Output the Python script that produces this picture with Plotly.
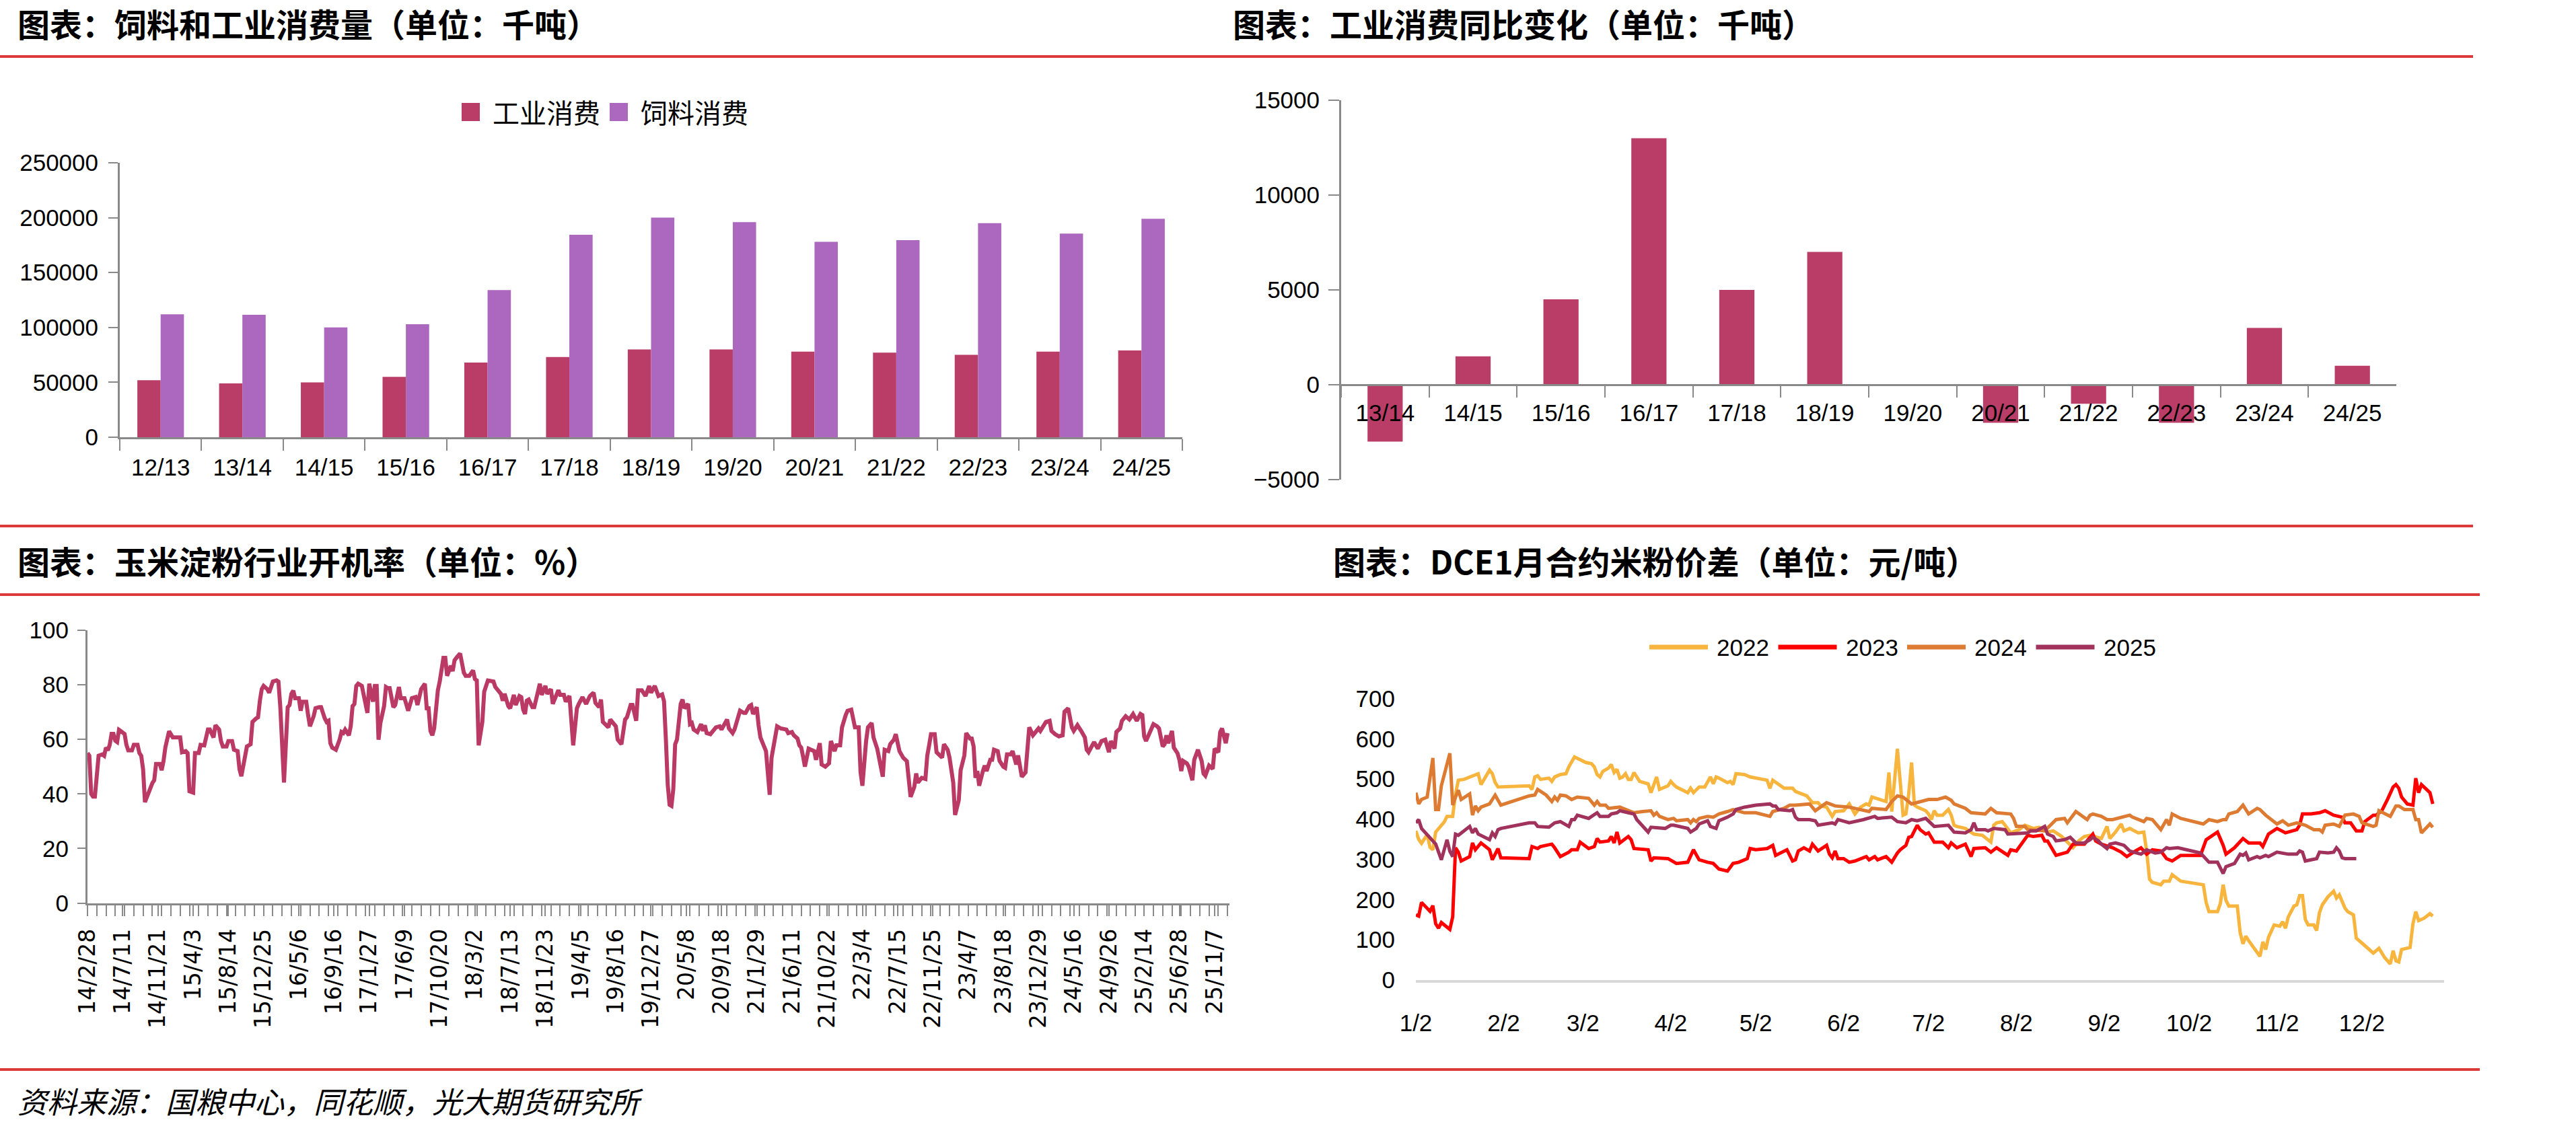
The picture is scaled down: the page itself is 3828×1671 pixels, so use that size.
import plotly.graph_objects as go
import pandas as pd

W, H = 3828, 1671

# ---------------- Chart 1: feed & industrial consumption ----------------
seasons = ["12/13", "13/14", "14/15", "15/16", "16/17", "17/18", "18/19",
           "19/20", "20/21", "21/22", "22/23", "23/24", "24/25"]
industrial = [52000, 49000, 50000, 55000, 68000, 73000, 80000,
              80000, 78000, 77000, 75000, 78000, 79000]
feed = [112000, 111500, 100000, 103000, 134000, 184500, 200000,
        196000, 178000, 179500, 195000, 185500, 199000]

# ---------------- Chart 2: industrial consumption YoY ----------------
yoy_seasons = ["13/14", "14/15", "15/16", "16/17", "17/18", "18/19",
               "19/20", "20/21", "21/22", "22/23", "23/24", "24/25"]
yoy_change = [-3000, 1500, 4500, 13000, 5000, 7000, 0, -2000, -1000, -2000, 3000, 1000]

# ---------------- Chart 3: corn starch operating rate (weekly) ----------------
rate_week = [0, 1, 2, 3, 4, 5, 6, 8, 9, 10, 11, 12, 13, 14, 15, 16, 17, 18, 20, 21, 22, 24, 25, 27, 28, 29, 30, 31, 33, 35,
             36, 37, 39, 40, 41, 42, 44, 46, 50, 51, 53, 54, 55, 57, 58, 60, 61, 63, 64, 65, 66, 68, 69, 71, 72, 73, 75, 76,
             78, 79, 81, 82, 83, 85, 86, 88, 89, 91, 92, 93, 94, 95, 97, 98, 100, 102, 103, 104, 105, 106, 107, 108, 109, 110,
             111, 112, 114, 115, 116, 118, 119, 120, 122, 123, 125, 126, 128, 129, 130, 131, 132, 134, 136, 137, 138, 139,
             141, 142, 143, 144, 145, 146, 148, 149, 150, 151, 152, 154, 155, 156, 157, 158, 160, 161, 162, 163, 165, 166,
             168, 169, 171, 173, 175, 177, 178, 180, 182, 183, 184, 185, 186, 187, 189, 190, 192, 193, 194, 196, 197, 198,
             199, 201, 203, 204, 206, 208, 209, 210, 211, 213, 214, 216, 219, 220, 223, 224, 225, 227, 228, 230, 231, 233,
             234, 235, 236, 237, 238, 240, 241, 244, 245, 247, 248, 250, 251, 254, 255, 257, 258, 260, 262, 264, 265, 267,
             269, 271, 273, 274, 276, 277, 278, 281, 282, 285, 286, 288, 290, 291, 293, 294, 296, 297, 299, 301, 303, 304,
             306, 308, 310, 311, 312, 313, 314, 315, 316, 317, 318, 319, 320, 321, 322, 324, 325, 326, 327, 329, 331, 332,
             333, 334, 336, 339, 341, 342, 345, 346, 348, 349, 352, 354, 355, 357, 358, 359, 361, 362, 363, 366, 367, 368,
             369, 371, 372, 374, 377, 378, 380, 381, 383, 384, 385, 386, 387, 389, 392, 393, 395, 396, 398, 400, 401, 403,
             404, 406, 407, 409, 410, 412, 413, 414, 416, 417, 418, 419, 420, 421, 423, 424, 426, 429, 430, 432, 433, 435,
             436, 438, 440, 442, 444, 446, 447, 448, 450, 452, 453, 454, 455, 457, 458, 461, 462, 464, 465, 467, 468, 470,
             471, 473, 474, 476, 477, 478, 479, 480, 481, 483, 484, 485, 487, 488, 489, 491, 492, 494, 495, 496, 498, 499,
             501, 502, 504, 506, 508, 510, 513, 514, 517, 519, 520, 522, 524, 526, 527, 529, 531, 532, 534, 536, 538, 539,
             540, 542, 543, 545, 547, 549, 551, 552, 554, 555, 557, 558, 560, 562, 564, 566, 568, 569, 570, 571, 574, 575,
             577, 578, 580, 581, 582, 583, 585, 586, 588, 589, 590, 591, 593, 594, 596, 597, 599, 601, 602, 603, 605, 607,
             608, 610, 611, 612, 614, 615]
rate_value = [55, 54, 40, 39, 39, 46, 54, 54.5, 54, 57, 56, 58, 62, 62, 59.5, 59, 63.5, 63, 62, 58, 56, 56, 58, 58, 55, 54, 49, 37, 41, 44,
              45, 51, 51, 48.7, 52, 57, 63, 60.7, 60.7, 55.3, 55.7, 55, 41, 40.5, 55, 55, 58, 57.8, 60.7, 63.6, 63.6, 60.7, 65.2, 63.6, 59.4, 57.4, 57.4, 59.4,
              59.4, 56.2, 55.7, 49, 46.5, 53.3, 57.4, 58.2, 66.4, 67.7, 68.1, 74.2, 78.4, 79.6, 78.4, 77.1, 81.2, 81.6, 81.2, 72, 55, 44.2, 58, 71.8, 72.6, 76.7,
              77.9, 75.1, 75.1, 70.5, 73.8, 73.8, 68.9, 64.8, 68.5, 71.4, 71.8, 71.8, 67.7, 66.4, 66.8, 58.6, 57, 56.2, 59.9, 62.7, 62.3, 63.6,
              61.5, 64.8, 72.2, 73, 79.6, 80.4, 79.6, 76.3, 71.4, 69.7, 80.4, 73.8, 79.6, 79.6, 59.9, 66, 72.2, 79.2, 78.8, 78.8, 71.8, 72.6,
              79.2, 75.1, 75.1, 70.5, 75.1, 75.5, 72.6, 78.4, 80.4, 71.4, 71.4, 63.1, 61.5, 64, 78, 81.2, 89.9, 89.9, 83.3, 87, 85, 89,
              89.9, 91.5, 84.5, 83.3, 83.3, 85.3, 82.1, 81.6, 57.8, 66.4, 77.5, 81.6, 81.2, 79.2, 76.7, 74.2, 76.7, 72.2, 71.4, 76.3, 72.6, 75.9,
              75.5, 71, 69.3, 74.2, 74.6, 71.8, 71.8, 80.4, 76.3, 79.6, 76.7, 78.4, 73, 78, 76.3, 76.3, 73.8, 75.9, 57.8, 71.4, 73, 75.5,
              73, 75.9, 77.1, 73.4, 71.8, 74.6, 66.4, 64.4, 67.3, 64.8, 59.9, 58.2, 67.3, 68.1, 72.6, 72.6, 66.8, 78, 78, 75.9, 79.6, 77.1,
              79.6, 75.9, 76.5, 74, 60, 43.4, 36, 35.6, 41.8, 58.2, 60, 68, 73, 74.6, 71.4, 73, 65.6, 66, 63.6, 62.7, 65.6, 63.1,
              65.2, 62.3, 61.9, 64.4, 64.8, 63.6, 67.3, 64, 62.3, 63.6, 70.5, 69.7, 69.7, 72.2, 72.6, 69.3, 71.8, 65.2, 60.7, 55.7, 48, 39.7,
              53.3, 60.7, 64.8, 64, 63.6, 62.3, 62.7, 61.5, 60.3, 57.8, 57, 53.7, 50, 56.6, 55.7, 52.5, 58.6, 50.8, 50, 51.2, 59.4, 55.7,
              57.8, 57.8, 64.4, 68.9, 70.5, 70.9, 68.1, 64.4, 64.4, 48, 43, 52, 59.4, 64.4, 66, 60.7, 56.6, 46.3, 56.2, 55.7, 58.2, 59.9,
              61.9, 55.7, 53.3, 52, 38.9, 42.6, 47.5, 44.2, 45.9, 45.5, 54.1, 57.8, 61.9, 61.9, 55.3, 53.3, 58.2, 56.2, 53.3, 44.2, 32.3, 37.7,
              48.7, 54.1, 62.3, 60.3, 60.3, 57.4, 45.9, 48.4, 43, 48.4, 50.4, 48.4, 52.5, 52.5, 56.2, 55.7, 52.1, 50, 49.6, 54.5, 54.5, 55.7,
              50.8, 54.1, 46.3, 47.9, 64.4, 61.5, 64, 63.1, 66.4, 66.8, 63.1, 61.9, 61.1, 61.5, 70.1, 71.4, 64.4, 63.1, 65.2, 63.1, 60.7, 56.2,
              55.3, 57.8, 59, 56.6, 59.4, 59.9, 55.3, 59.4, 56.6, 62.7, 64, 66.8, 68.5, 67.3, 69.3, 66.8, 69.3, 68.9, 61.1, 59.4, 64.8, 65.6,
              64.8, 64, 57.4, 58.2, 61.5, 58.6, 63.1, 57, 54.9, 52.5, 48.4, 52.1, 51.2, 50, 45, 52.5, 56.2, 52.1, 47.5, 46.7, 50.4, 49.2,
              56.6, 55.3, 62.7, 64, 58.6, 62.3]
rate_ticklabels = ["14/2/28", "14/7/11", "14/11/21", "15/4/3", "15/8/14", "15/12/25", "16/5/6", "16/9/16",
                   "17/1/27", "17/6/9", "17/10/20", "18/3/2", "18/7/13", "18/11/23", "19/4/5", "19/8/16",
                   "19/12/27", "20/5/8", "20/9/18", "21/1/29", "21/6/11", "21/10/22", "22/3/4", "22/7/15",
                   "22/11/25", "23/4/7", "23/8/18", "23/12/29", "24/5/16", "24/9/26", "25/2/14", "25/6/28", "25/11/7"]
rate_label_step = 19  # weeks between labelled categories

# ---------------- Chart 4: DCE Jan contract corn-starch spread ----------------
# day = days elapsed since Jan 2 of the respective year
day_2022 = [0, 1, 2, 3, 4, 5, 6, 7, 8, 10, 11, 13, 14, 15, 17, 20, 21, 22, 23, 26, 27, 28, 29, 40, 41, 42, 43, 44, 47, 48,
            49, 51, 53, 54, 56, 57, 58, 60, 62, 63, 64, 65, 66, 68, 69, 70, 71, 72, 73, 74, 75, 76, 77, 79, 82, 83, 85, 86,
            89, 90, 91, 92, 96, 97, 98, 100, 102, 104, 105, 106, 107, 110, 111, 112, 113, 116, 118, 124, 125, 126, 130, 133,
            134, 135, 138, 140, 142, 143, 145, 147, 148, 151, 153, 155, 157, 159, 160, 161, 166, 167, 168, 170, 171, 172,
            173, 174, 175, 176, 177, 180, 181, 182, 183, 184, 186, 188, 189, 190, 191, 194, 197, 200, 203, 204, 205, 207,
            208, 210, 213, 215, 218, 220, 223, 225, 228, 230, 232, 234, 236, 238, 242, 244, 245, 247, 249, 250, 252, 255,
            257, 258, 259, 260, 263, 264, 266, 267, 269, 270, 278, 279, 280, 283, 284, 285, 286, 287, 290, 291, 292, 293,
            294, 298, 299, 300, 301, 303, 305, 306, 307, 308, 310, 311, 312, 313, 314, 315, 317, 318, 319, 320, 322, 324,
            325, 326, 328, 329, 331, 332, 334, 338, 340, 342, 344, 345, 346, 347, 348, 351, 352, 353, 354, 356, 358, 359]
spread_2022 = [371, 350, 340, 352, 362, 330, 324, 368, 377, 393, 407, 407, 463, 497, 499, 508, 511, 513, 486, 522, 513, 491, 480, 483, 474, 505, 508, 499, 502, 494,
               505, 511, 513, 530, 555, 552, 547, 541, 538, 530, 511, 505, 519, 527, 536, 516, 524, 502, 505, 513, 499, 499, 516, 494, 488, 466, 505, 474,
               483, 494, 486, 480, 466, 477, 466, 480, 480, 505, 488, 505, 502, 491, 494, 486, 513, 511, 505, 497, 477, 497, 477, 477,
               469, 466, 458, 441, 441, 433, 430, 407, 419, 421, 438, 413, 430, 438, 435, 455, 444, 516, 419, 575, 491, 410,
               413, 463, 541, 435, 430, 421, 413, 399, 421, 410, 410, 424, 410, 385, 382, 377, 363, 360, 343, 385, 391, 394,
               385, 366, 374, 385, 377, 380, 368, 371, 357, 343, 329, 346, 357, 360, 352, 382, 352, 368, 388, 371, 377, 366,
               368, 320, 251, 243, 237, 246, 246, 262, 251, 246, 237, 193, 170, 170, 190, 237, 198, 184, 184, 118, 90, 109,
               98, 59, 95, 76, 106, 137, 134, 145, 129, 157, 184, 187, 210, 210, 151, 137, 137, 123, 168, 187, 207, 221,
               204, 212, 179, 170, 162, 104, 92, 67, 79, 56, 40, 73, 48, 45, 76, 81, 140, 170, 148, 154, 165, 159]

day_2023 = [0, 1, 2, 4, 5, 6, 7, 8, 9, 12, 13, 14, 15, 16, 19, 20, 21, 23, 26, 27, 29, 30, 40, 41, 43, 44, 48, 49, 51, 54,
            55, 57, 58, 61, 63, 64, 65, 68, 69, 70, 71, 72, 75, 76, 77, 82, 83, 84, 89, 92, 96, 98, 100, 103, 105, 107, 110,
            112, 114, 117, 118, 120, 124, 126, 127, 131, 133, 134, 135, 137, 139, 140, 142, 145, 146, 147, 148, 149, 151,
            153, 155, 159, 160, 162, 163, 166, 168, 170, 171, 173, 174, 175, 177, 178, 180, 181, 183, 186, 188, 189, 191,
            194, 196, 197, 201, 203, 205, 209, 210, 212, 216, 218, 221, 222, 223, 226, 230, 232, 236, 239, 240, 242, 246,
            249, 251, 254, 256, 258, 260, 263, 265, 267, 270, 274, 277, 279, 283, 285, 286, 289, 292, 294, 298, 299, 300,
            301, 304, 307, 311, 312, 313, 316, 319, 321, 324, 327, 328, 330, 332, 334, 335, 338, 339, 341, 343, 345, 346,
            347, 348, 350, 352, 353, 354, 355, 358, 359]
spread_2023 = [162, 159, 193, 179, 171, 185, 140, 129, 143, 126, 157, 329, 318, 296, 307, 341, 324, 341, 324, 299, 327, 304, 302, 332, 327, 332, 338, 329, 307, 318,
               324, 324, 343, 327, 332, 352, 343, 346, 357, 341, 368, 341, 357, 349, 327, 324, 296, 304, 302, 290, 293, 324, 299, 293, 290, 276, 271,
               290, 293, 302, 327, 324, 327, 335, 310, 324, 296, 299, 321, 329, 321, 338, 321, 335, 313, 304, 321, 302, 302,
               293, 296, 307, 299, 307, 299, 307, 293, 316, 324, 335, 355, 357, 385, 374, 363, 366, 343, 343, 329, 341, 329,
               338, 307, 327, 329, 318, 329, 310, 324, 321, 360, 357, 360, 346, 346, 310, 318, 338, 338, 363, 346, 338, 329,
               318, 307, 321, 329, 313, 324, 321, 302, 296, 310, 310, 310, 349, 368, 335, 313, 329, 352, 341, 341, 332, 346,
               363, 377, 366, 374, 385, 413, 413, 416, 421, 410, 405, 391, 391, 371, 371, 394, 410, 410, 421, 449, 480, 486,
               477, 455, 438, 435, 502, 466, 486, 466, 438]

day_2024 = [0, 1, 2, 4, 6, 7, 8, 9, 12, 13, 14, 15, 16, 19, 20, 21, 22, 23, 26, 28, 30, 40, 42, 43, 46, 48, 49, 50, 51, 53,
            55, 57, 61, 63, 64, 65, 67, 68, 72, 75, 77, 80, 83, 84, 85, 86, 89, 91, 92, 96, 97, 98, 99, 100, 103, 105, 107,
            110, 112, 116, 120, 125, 126, 130, 132, 134, 139, 141, 145, 148, 151, 153, 160, 161, 166, 168, 170, 172, 175,
            178, 181, 184, 187, 189, 190, 194, 196, 201, 203, 205, 210, 211, 212, 215, 216, 222, 225, 226, 229, 230, 233,
            235, 237, 238, 239, 242, 244, 246, 250, 252, 253, 257, 258, 260, 263, 265, 266, 267, 270, 278, 280, 283, 285,
            286, 287, 290, 292, 294, 297, 298, 300, 302, 304, 306, 308, 311, 314, 317, 319, 320, 321, 324, 326, 328, 331,
            333, 334, 338, 339, 340, 344, 346, 347, 349, 352, 353, 354, 355, 358, 359]
spread_2024 = [466, 438, 449, 455, 552, 424, 424, 483, 564, 435, 455, 472, 449, 463, 410, 433, 421, 430, 438, 460, 435, 458, 460, 474, 460, 444, 455, 447, 460, 458,
               449, 455, 452, 435, 444, 435, 435, 427, 430, 421, 416, 419, 421, 410, 416, 407, 399, 402, 396, 399, 391, 399, 394, 402, 407, 405, 413,
               419, 424, 416, 416, 407, 419, 427, 435, 435, 438, 421, 441, 433, 430, 430, 419, 427, 424, 444, 458, 455, 438,
               444, 449, 449, 455, 447, 438, 427, 416, 413, 427, 416, 413, 402, 382, 382, 374, 371, 394, 399, 402, 391, 419,
               410, 399, 410, 413, 407, 399, 399, 407, 410, 405, 394, 402, 399, 374, 399, 385, 413, 402, 388, 399, 394, 399,
               399, 413, 419, 435, 413, 427, 424, 410, 399, 388, 396, 385, 391, 385, 374, 374, 368, 385, 388, 382, 410, 413,
               407, 391, 382, 385, 421, 407, 433, 433, 424, 424, 399, 399, 366, 388, 380]

day_2025 = [0, 1, 2, 5, 7, 9, 11, 12, 13, 14, 15, 19, 20, 21, 22, 26, 27, 28, 29, 30, 40, 42, 43, 47, 49, 51, 54, 55, 56, 57,
            61, 64, 65, 68, 69, 71, 72, 75, 77, 78, 80, 82, 83, 88, 90, 91, 96, 97, 99, 100, 103, 104, 106, 107, 110, 112,
            113, 116, 120, 125, 126, 127, 128, 132, 133, 134, 135, 139, 141, 142, 147, 148, 149, 151, 153, 158, 162, 163,
            166, 168, 170, 173, 175, 177, 180, 181, 183, 188, 190, 194, 196, 197, 198, 201, 202, 204, 208, 209, 214, 216,
            217, 219, 222, 223, 225, 226, 229, 231, 233, 236, 238, 239, 241, 242, 244, 245, 247, 250, 252, 254, 256, 258,
            261, 263, 265, 266, 269, 277, 280, 283, 285, 286, 288, 289, 291, 292, 293, 294, 297, 298, 300, 301, 304, 306,
            308, 311, 312, 313, 314, 318, 319, 322, 324, 325, 326, 327, 328, 332]
spread_2025 = [391, 399, 377, 352, 338, 299, 349, 320, 307, 363, 360, 382, 366, 377, 363, 349, 366, 357, 374, 377, 391, 391, 382, 380, 391, 394, 382, 399, 399, 410,
               402, 416, 407, 407, 413, 416, 421, 416, 413, 399, 382, 368, 380, 377, 385, 385, 377, 368, 377, 388, 396, 382, 377, 396, 405, 413,
               424, 430, 435, 438, 433, 433, 424, 421, 424, 405, 399, 399, 396, 385, 391, 388, 399, 396, 391, 399, 407, 402,
               405, 405, 394, 391, 399, 396, 402, 396, 382, 385, 368, 366, 374, 391, 374, 374, 371, 377, 374, 363, 366, 366,
               371, 371, 382, 363, 357, 346, 349, 355, 341, 341, 349, 355, 346, 338, 327, 338, 341, 335, 321, 316, 313, 324,
               316, 318, 329, 327, 329, 316, 293, 293, 265, 282, 288, 290, 313, 310, 316, 299, 307, 304, 310, 307, 318, 316,
               313, 313, 321, 318, 296, 302, 318, 316, 318, 329, 321, 304, 302, 302]
spread_ticklabels = ["1/2", "2/2", "3/2", "4/2", "5/2", "6/2", "7/2", "8/2", "9/2", "10/2", "11/2", "12/2"]

# ---------------- styling ----------------
C_IND = "#BA3D68"
C_FEED = "#AC67BE"
C_RATE = "#BA3A65"
C_2022, C_2023, C_2024, C_2025 = "#F8B53E", "#FF0000", "#DE7B33", "#A0325C"
AXIS = "#898989"
RED = "#DC3A3A"
NUM_FONT = dict(family="Liberation Sans", size=35, color="#000000")
CJK = "Noto Sans CJK SC"


def fx(px):
    return px / W


def fy(py):
    return 1 - py / H


fig = go.Figure()

# Chart 1 bars
fig.add_trace(go.Bar(x=seasons, y=industrial, name="工业消费", marker_color=C_IND,
                     width=0.285, offset=-0.285, xaxis="x", yaxis="y", showlegend=False))
fig.add_trace(go.Bar(x=seasons, y=feed, name="饲料消费", marker_color=C_FEED,
                     width=0.285, offset=0.0, xaxis="x", yaxis="y", showlegend=False))

# Chart 2 bars
fig.add_trace(go.Bar(x=yoy_seasons, y=yoy_change, marker_color=C_IND, width=0.4,
                     showlegend=False, xaxis="x2", yaxis="y2"))

# Chart 3 line
fig.add_trace(go.Scatter(x=rate_week, y=rate_value, mode="lines",
                         line=dict(color=C_RATE, width=6), showlegend=False,
                         xaxis="x3", yaxis="y3"))

# Chart 4 lines
base = pd.Timestamp("2021-01-02")
spread_series = [("2022", day_2022, spread_2022, C_2022),
                 ("2023", day_2023, spread_2023, C_2023),
                 ("2024", day_2024, spread_2024, C_2024),
                 ("2025", day_2025, spread_2025, C_2025)]
for name, days, vals, col in spread_series:
    xs = [base + pd.Timedelta(days=d) for d in days]
    fig.add_trace(go.Scatter(x=xs, y=vals, mode="lines", name=name,
                             line=dict(color=col, width=5), xaxis="x4", yaxis="y4",
                             showlegend=False))

axis_common = dict(showline=True, linecolor=AXIS, linewidth=3, showgrid=False,
                   zeroline=False, tickfont=NUM_FONT, ticks="outside",
                   tickcolor=AXIS, tickwidth=2, automargin=False)

# chart 2 zero-line position
y2_dom = [fy(713), fy(149)]
y2_rng = [-5000, 15000]
zero_pos = y2_dom[0] + (0 - y2_rng[0]) / (y2_rng[1] - y2_rng[0]) * (y2_dom[1] - y2_dom[0])

rate_tickvals = [i * rate_label_step for i in range(len(rate_ticklabels))]
spread_tickvals = [pd.Timestamp(2021, int(t.split("/")[0]), int(t.split("/")[1]))
                   for t in spread_ticklabels]

fig.update_layout(
    template="none",
    width=W, height=H, autosize=False,
    margin=dict(l=0, r=0, t=0, b=0, pad=0, autoexpand=False),
    paper_bgcolor="white", plot_bgcolor="white",
    barmode="overlay", showlegend=False,
    xaxis=dict(axis_common, domain=[fx(178), fx(1757)], anchor="y", type="category",
               range=[-0.5, 12.5], tickson="boundaries", ticklen=17,
               ticklabelstandoff=12),
    yaxis=dict(axis_common, domain=[fy(650), fy(242)], anchor="x",
               range=[0, 250000], dtick=50000, tickformat="d", ticklen=14,
               ticklabelstandoff=8),
    xaxis2=dict(axis_common, domain=[fx(1993), fx(3561)], anchor="free",
                position=zero_pos, type="category", range=[-0.5, 11.5],
                tickson="boundaries", ticklen=17, ticklabelstandoff=10),
    yaxis2=dict(axis_common, domain=y2_dom, anchor="x2", range=y2_rng,
                dtick=5000, tickformat="d", ticklen=16, ticklabelstandoff=6),
    xaxis3=dict(axis_common, domain=[fx(130), fx(1827)], anchor="y3",
                range=[0, 616], tickmode="array", tickvals=rate_tickvals,
                ticktext=rate_ticklabels, tickangle=-90, ticklen=16,
                tickfont=dict(family="DejaVu Sans", size=33, color="#000000"),
                minor=dict(dtick=5, tick0=0, ticks="outside", ticklen=16,
                           tickcolor=AXIS, tickwidth=2),
                ticklabelstandoff=6),
    yaxis3=dict(axis_common, domain=[fy(1342.5), fy(937)], anchor="x3",
                range=[0, 100], dtick=20, ticklen=12, ticklabelstandoff=6),
    xaxis4=dict(domain=[fx(2104), fx(3632)], anchor="y4", type="date",
                range=[base, pd.Timestamp("2021-12-31")], tickmode="array",
                tickvals=spread_tickvals, ticktext=spread_ticklabels,
                showline=True, linecolor="#D9D9D9", linewidth=4, showgrid=False,
                zeroline=False, ticks="", tickfont=NUM_FONT, ticklabelstandoff=30,
                automargin=False),
    yaxis4=dict(domain=[fy(1457), fy(1038.5)], anchor="x4", range=[0, 700],
                dtick=100, showline=False, showgrid=False, zeroline=False,
                ticks="", tickfont=NUM_FONT, ticklabelstandoff=30, automargin=False),
)

# red separator lines
for y, x1 in [(84, 3675), (782, 3675), (884, 3685), (1590, 3685)]:
    fig.add_shape(type="line", xref="paper", yref="paper", x0=0, x1=fx(x1),
                  y0=fy(y), y1=fy(y), line=dict(color=RED, width=4))

# ---- legend for chart 1 (square swatches + labels) ----
legend1 = [("工业消费", C_IND, 686), ("饲料消费", C_FEED, 906)]
for label, col, x0 in legend1:
    fig.add_shape(type="rect", xref="paper", yref="paper", x0=fx(x0), x1=fx(x0 + 27),
                  y0=fy(180), y1=fy(153), fillcolor=col, line=dict(width=0))
    fig.add_annotation(text=label, xref="paper", yref="paper", x=fx(x0 + 44), y=fy(166),
                       xanchor="left", yanchor="middle", showarrow=False,
                       font=dict(family=CJK, size=40, color="#000000"))

# ---- legend for chart 4 (line swatches + labels) ----
leg4_x0, leg4_step, leg4_y = 2451, 191.5, 962
for i, (name, _, _, col) in enumerate(spread_series):
    x0 = leg4_x0 + i * leg4_step
    fig.add_shape(type="line", xref="paper", yref="paper", x0=fx(x0), x1=fx(x0 + 87),
                  y0=fy(leg4_y), y1=fy(leg4_y), line=dict(color=col, width=7))
    fig.add_annotation(text=name, xref="paper", yref="paper", x=fx(x0 + 98), y=fy(leg4_y),
                       xanchor="left", yanchor="middle", showarrow=False, font=NUM_FONT)

titles = [
    ("图表：饲料和工业消费量（单位：千吨）", 24, 34),
    ("图表：工业消费同比变化（单位：千吨）", 1830, 34),
    ("图表：玉米淀粉行业开机率（单位：%）", 24, 833),
    ("图表：DCE1月合约米粉价差（单位：元/吨）", 1979, 833),
]
for text, x, y in titles:
    fig.add_annotation(text=text, xref="paper", yref="paper", x=fx(x), y=fy(y),
                       xanchor="left", yanchor="middle", showarrow=False,
                       font=dict(family=CJK, size=48, color="#000000", weight=700))

fig.add_annotation(text="资料来源：国粮中心，同花顺，光大期货研究所", xref="paper", yref="paper",
                   x=fx(24), y=fy(1636), xanchor="left", yanchor="middle", showarrow=False,
                   font=dict(family=CJK, size=44, color="#000000", style="italic"))

fig.write_html("out.html")
